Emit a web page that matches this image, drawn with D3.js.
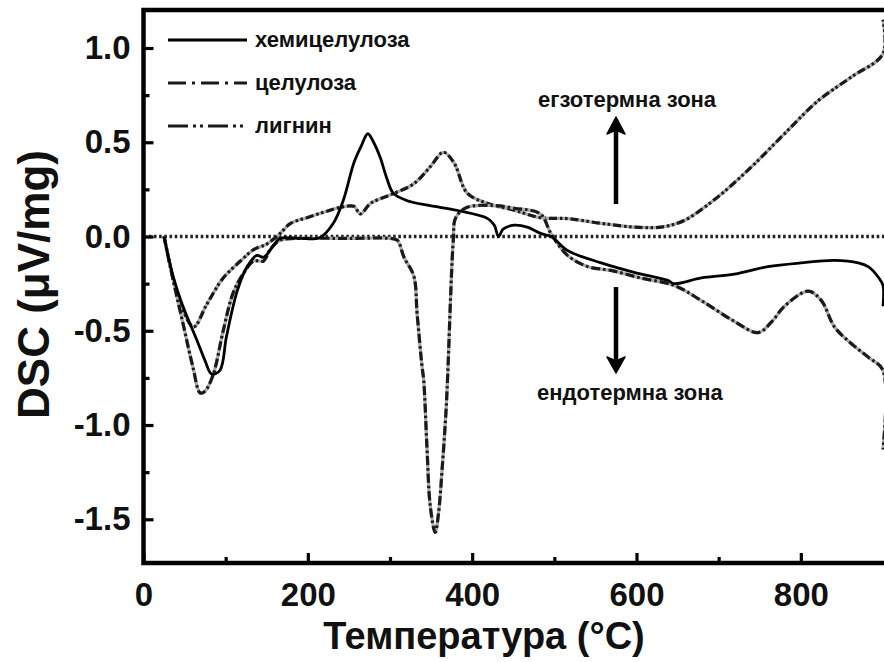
<!DOCTYPE html>
<html>
<head>
<meta charset="utf-8">
<script src="https://cdn.jsdelivr.net/npm/d3@7/dist/d3.min.js"></script>
<style>
  html, body { margin: 0; padding: 0; background: #fff; }
  svg { display: block; }
  text { font-family: "Liberation Sans", Arial, Helvetica, sans-serif; font-weight: bold; fill: #111; }
</style>
</head>
<body>
<svg id="chart" width="884" height="662"></svg>
<script>
// ---- data ----
const seriesNames = ["хемицелулоза", "целулоза", "лигнин"];

const hemiT = [25, 36, 48, 65, 75, 83, 93, 101, 114, 126, 138, 146, 158, 166, 190, 215, 231, 243, 256, 265, 273, 280, 288, 296, 304, 321, 349, 382, 419, 427, 432, 438, 451, 467, 484, 496, 516, 557, 597, 638, 646, 679, 719, 760, 800, 841, 870, 882, 895, 900, 900];
const hemiV = [0, -0.21, -0.37, -0.55, -0.66, -0.73, -0.71, -0.53, -0.29, -0.16, -0.1, -0.11, -0.05, -0.01, -0.01, -0.005, 0.07, 0.19, 0.39, 0.48, 0.545, 0.5, 0.42, 0.31, 0.23, 0.19, 0.164, 0.138, 0.095, 0.06, 0.0, 0.04, 0.06, 0.05, 0.015, 0.0, -0.074, -0.14, -0.19, -0.233, -0.25, -0.22, -0.2, -0.16, -0.14, -0.127, -0.14, -0.16, -0.22, -0.26, -0.37];

const celT = [25, 36, 48, 60, 69, 75, 85, 97, 109, 121, 134, 146, 154, 166, 200, 250, 300, 309, 317, 329, 333, 339, 341, 345, 349, 355, 359, 364, 368, 370, 377, 380, 394, 426, 451, 483, 496, 516, 541, 569, 605, 646, 679, 719, 748, 765, 780, 809, 825, 841, 862, 882, 900, 900];
const celV = [0, -0.23, -0.46, -0.69, -0.83, -0.82, -0.73, -0.5, -0.3, -0.2, -0.13, -0.13, -0.07, -0.02, -0.01, -0.01, -0.01, -0.02, -0.11, -0.21, -0.41, -0.69, -0.76, -1.12, -1.43, -1.57, -1.47, -1.2, -0.94, -0.76, -0.02, 0.1, 0.155, 0.164, 0.15, 0.12, 0.015, -0.1, -0.16, -0.18, -0.22, -0.26, -0.34, -0.45, -0.51, -0.45, -0.37, -0.29, -0.34, -0.48, -0.57, -0.64, -0.71, -1.13];

const ligT = [25, 36, 48, 61, 77, 97, 118, 134, 150, 166, 179, 199, 220, 240, 256, 264, 276, 300, 329, 349, 365, 378, 394, 419, 451, 483, 516, 557, 597, 630, 658, 699, 740, 780, 821, 861, 900, 900];
const ligV = [0, -0.22, -0.39, -0.48, -0.36, -0.22, -0.13, -0.07, -0.04, 0.015, 0.07, 0.1, 0.13, 0.155, 0.16, 0.12, 0.175, 0.22, 0.28, 0.37, 0.447, 0.39, 0.23, 0.175, 0.14, 0.1, 0.095, 0.07, 0.05, 0.05, 0.085, 0.21, 0.37, 0.545, 0.72, 0.845, 0.97, 1.15];

const yMajorTicks = [-1.5, -1.0, -0.5, 0.0, 0.5, 1.0];
const yMinorTicks = [-1.25, -0.75, -0.25, 0.25, 0.75];
const xMajorTicks = [0, 200, 400, 600, 800];
const xMinorTicks = [100, 300, 500, 700];

const xTitle = "Температура (°C)";
const yTitle = "DSC (μV/mg)";
const exoLabel = "егзотермна зона";
const endoLabel = "ендотермна зона";

// ---- drawing ----
const svg = d3.select("#chart");
const x = d3.scaleLinear().domain([0, 900]).range([143.5, 883]);
const y = d3.scaleLinear().domain([-1.732, 1.2016]).range([563, 10]);

const toPts = (T, V) => T.map((t, i) => [t, V[i]]);
const line = d3.line().x(d => x(d[0])).y(d => y(d[1])).curve(d3.curveCatmullRom.alpha(0.5));

// zero reference line
svg.append("line")
  .attr("x1", x(0)).attr("x2", 884)
  .attr("y1", y(0)).attr("y2", y(0))
  .attr("stroke", "#222").attr("stroke-width", 3.5)
  .attr("stroke-dasharray", "2.6,2.6");

// curves
const styles = [
  { data: toPts(hemiT, hemiV), solid: true, dash: null, legendDash: null },
  { data: toPts(celT, celV), solid: false, dash: "9,3,2.5,3", legendDash: "18,6,3,6" },
  { data: toPts(ligT, ligV), solid: false, dash: "8,3,2.5,2.5,2.5,3", legendDash: "20,5,3,4,3,5" }
];

const plot = svg.append("g");
styles.slice().reverse().forEach(s => {
  if (s.solid) {
    plot.append("path").attr("d", line(s.data))
      .attr("fill", "none").attr("stroke", "#000").attr("stroke-width", 2.8)
      .attr("stroke-linejoin", "round");
  } else {
    plot.append("path").attr("d", line(s.data))
      .attr("fill", "none").attr("stroke", "#a8a8a8").attr("stroke-width", 3.2);
    plot.append("path").attr("d", line(s.data))
      .attr("fill", "none").attr("stroke", "#1a1a1a").attr("stroke-width", 3.2)
      .attr("stroke-dasharray", s.dash);
  }
});

// frame
svg.append("rect")
  .attr("x", x(0)).attr("y", y.range()[1])
  .attr("width", 900).attr("height", y.range()[0] - y.range()[1])
  .attr("fill", "none").attr("stroke", "#000").attr("stroke-width", 4.5);

// axes
const fmtY = d => d.toFixed(1);
const yAxis = svg.append("g").attr("transform", `translate(${x(0)},0)`)
  .call(d3.axisLeft(y).tickValues(yMajorTicks).tickFormat(fmtY).tickSize(-10).tickSizeOuter(0).tickPadding(13));
const yAxisMinor = svg.append("g").attr("transform", `translate(${x(0)},0)`)
  .call(d3.axisLeft(y).tickValues(yMinorTicks).tickFormat("").tickSize(-6).tickSizeOuter(0));
const xAxis = svg.append("g").attr("transform", `translate(0,${y.range()[0]})`)
  .call(d3.axisBottom(x).tickValues(xMajorTicks).tickFormat(d3.format("d")).tickSize(-10).tickSizeOuter(0).tickPadding(20));
const xAxisMinor = svg.append("g").attr("transform", `translate(0,${y.range()[0]})`)
  .call(d3.axisBottom(x).tickValues(xMinorTicks).tickFormat("").tickSize(-6).tickSizeOuter(0));

[yAxis, yAxisMinor, xAxis, xAxisMinor].forEach(g => {
  g.select(".domain").remove();
  g.selectAll(".tick line").attr("stroke", "#000").attr("stroke-width", 3.2);
  g.selectAll(".tick text")
    .attr("fill", "#111")
    .style("font-family", '"Liberation Sans", Arial, sans-serif')
    .style("font-weight", "bold")
    .style("font-size", "33px");
});

// axis titles
svg.append("text").attr("x", 484).attr("y", 649)
  .attr("text-anchor", "middle").style("font-size", "38px").text(xTitle);
svg.append("text")
  .attr("transform", `translate(49,${(y.range()[0] + y.range()[1]) / 2 - 2}) rotate(-90)`)
  .attr("text-anchor", "middle").style("font-size", "44px").text(yTitle);

// legend
const legY = [40, 83, 126];
styles.forEach((s, i) => {
  if (s.solid) {
    svg.append("line").attr("x1", 168).attr("x2", 247).attr("y1", legY[i]).attr("y2", legY[i])
      .attr("stroke", "#000").attr("stroke-width", 2.8);
  } else {
    svg.append("line").attr("x1", 168).attr("x2", 247).attr("y1", legY[i]).attr("y2", legY[i])
      .attr("stroke", "#1a1a1a").attr("stroke-width", 3.2).attr("stroke-dasharray", s.legendDash);
  }
  svg.append("text").attr("x", 255).attr("y", legY[i] + 6.5)
    .style("font-size", "22px").text(seriesNames[i]);
});

// annotations
svg.append("text").attr("x", 538).attr("y", 107).style("font-size", "22px").text(exoLabel);
svg.append("text").attr("x", 537).attr("y", 400).style("font-size", "22px").text(endoLabel);

// arrows
const ax = 616;
svg.append("line").attr("x1", ax).attr("x2", ax).attr("y1", 204).attr("y2", 128)
  .attr("stroke", "#000").attr("stroke-width", 4.5);
svg.append("path").attr("d", `M${ax},117 L${ax + 9},134 L${ax},130 L${ax - 9},134 Z`)
  .attr("fill", "#000").attr("stroke", "#000").attr("stroke-width", 1.5).attr("stroke-linejoin", "round");
svg.append("line").attr("x1", ax).attr("x2", ax).attr("y1", 287).attr("y2", 363)
  .attr("stroke", "#000").attr("stroke-width", 4.5);
svg.append("path").attr("d", `M${ax},373 L${ax + 9},357 L${ax},361 L${ax - 9},357 Z`)
  .attr("fill", "#000").attr("stroke", "#000").attr("stroke-width", 1.5).attr("stroke-linejoin", "round");
</script>
</body>
</html>
